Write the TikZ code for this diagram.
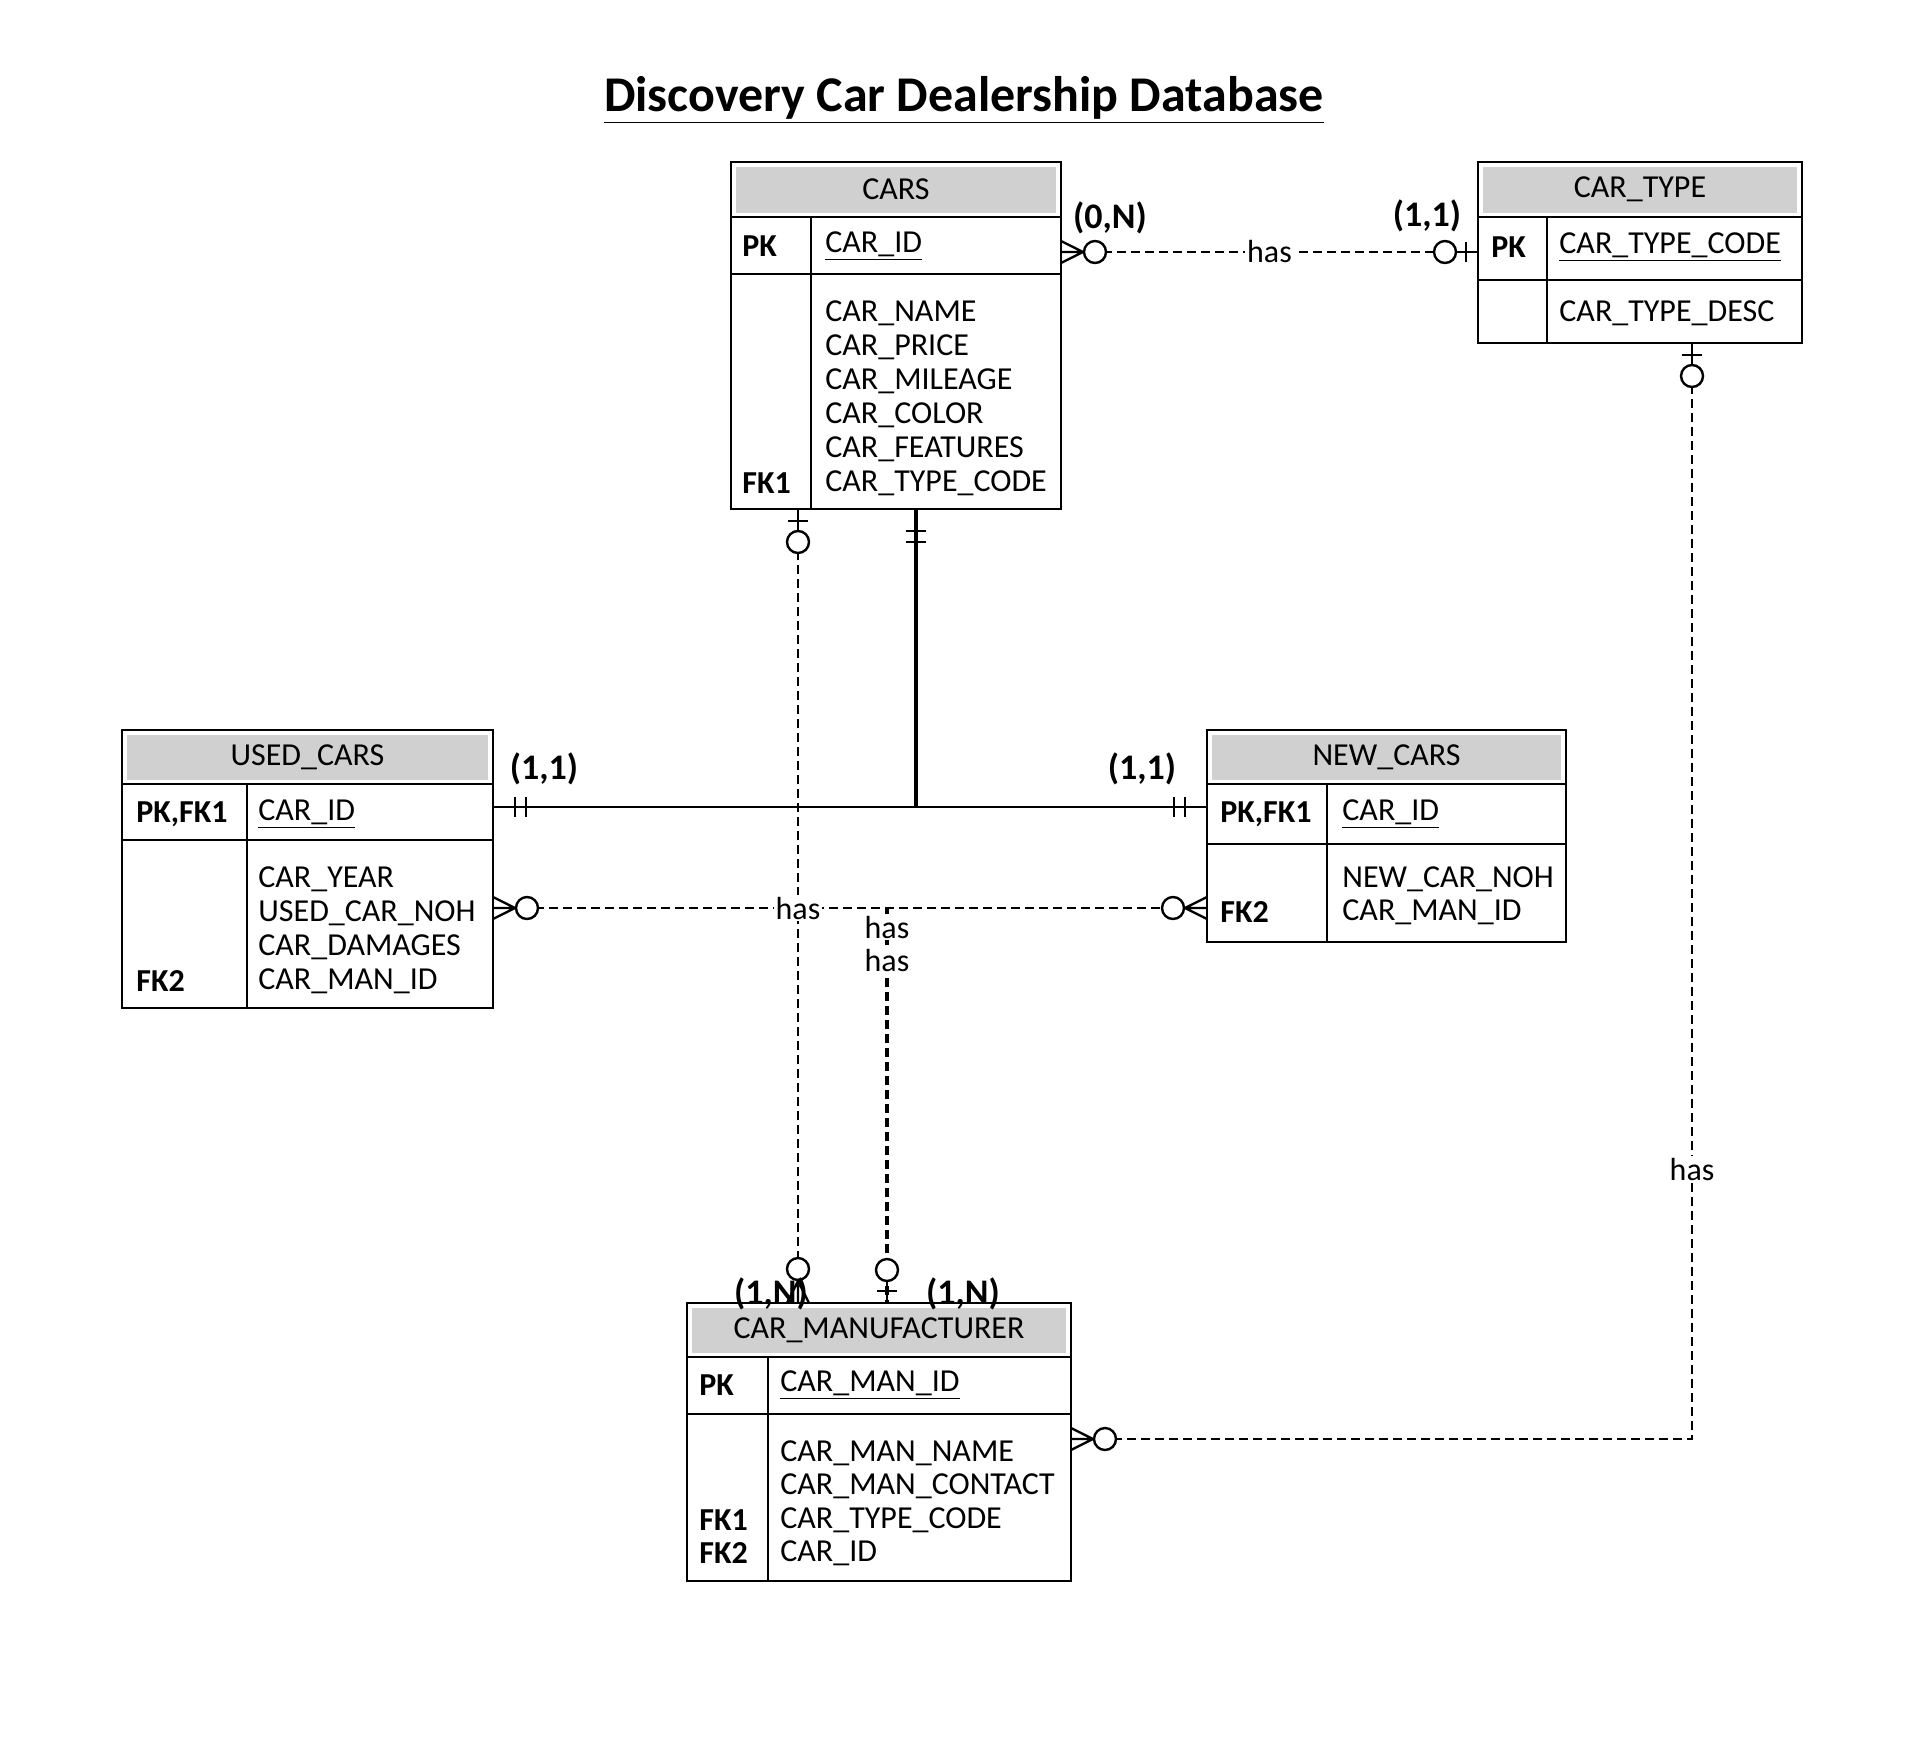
\documentclass[tikz,border=0pt]{standalone}
\usepackage{fontspec}
\setmainfont{Carlito}
\usepackage{tikz}
\usetikzlibrary{calc,positioning}
\definecolor{headgray}{RGB}{208,208,208}
\tikzset{
	tbl frame/.style={draw,line width=1.4pt,inner sep=0pt,outer sep=0pt},
	tbl rule/.style={line width=1pt},
	tbl text/.style={font=\fontsize{16}{19}\selectfont,inner sep=0pt,anchor=west},
	key text/.style={tbl text,font=\bfseries\fontsize{16}{19}\selectfont},
	head text/.style={font=\fontsize{16}{19}\selectfont,inner sep=0pt},
	card/.style={font=\bfseries\fontsize{18}{21}\selectfont,inner sep=0pt},
	has/.style={font=\fontsize{16}{19}\selectfont,fill=white,inner sep=1pt},
	rel/.style={line width=1.2pt,dash pattern=on 4.5pt off 2.5pt},
	link/.style={line width=1.2pt},
	end mark/.style={line width=1.2pt,solid},
	zero many/.pic={
		\draw[end mark] (0,-11) -- (22,0) -- (0,11) (0,0) -- (22,0);
		\draw[end mark,fill=white] (34,0) circle[radius=5.5pt];},
	zero one/.pic={
		\draw[end mark] (0,0) -- (22,0) (12,-10) -- (12,10);
		\draw[end mark,fill=white] (33,0) circle[radius=5.5pt];},
	one one/.pic={
		\draw[end mark] (22,-10) -- (22,10) (33,-10) -- (33,10);}
}
% #1 name, #2 title, #3 left, #4 top, #5 right, #6 head bottom, #7 key bottom, #8 bottom, #9 key column
\newcommand{\entity}[9]{
	\fill[headgray] (#3+5,#4+5) rectangle (#5-5,#6-4);
	\node[tbl frame,anchor=north west,minimum width={(#5-#3)*0.5pt},minimum height={(#8-#4)*0.5pt}] (#1) at (#3,#4) {};
	\draw[tbl rule] (#3,#6) -- (#5,#6) (#3,#7) -- (#5,#7) (#9,#6) -- (#9,#8);
	\node[head text] (#1 head) at ({(#3+#5)/2},{(#4+#6)/2}) {#2};
}

\begin{document}
\begin{tikzpicture}[x=0.5pt,y=-0.5pt]
\useasboundingbox (0,0) rectangle (1920,1750);
\node[font=\bfseries\fontsize{25}{30}\selectfont] (title) at (964,100) {\underline{Discovery Car Dealership Database}};

% entities
\entity{cars}{CARS}{731}{162}{1061}{217}{274}{509}{811}
\node[key text] (cars pk) at (742,246) {PK};
\node[tbl text] (cars id) at (825,246) {\underline{CAR\_ID}};
\foreach \f [count=\i] in {CAR\_NAME,CAR\_PRICE,CAR\_MILEAGE,CAR\_COLOR,CAR\_FEATURES,CAR\_TYPE\_CODE}
	\node[tbl text] (cars \i) at (825,{313+(\i-1)*34}) {\f};
\node[key text] (cars fk1) at (742,483) {FK1};

\entity{ctype}{CAR\_TYPE}{1478}{162}{1802}{217}{280}{343}{1547}
\node[key text] (ctype pk) at (1491,247) {PK};
\node[tbl text] (ctype code) at (1559,247) {\underline{CAR\_TYPE\_CODE}};
\node[tbl text] (ctype desc) at (1559,313) {CAR\_TYPE\_DESC};

\entity{used}{USED\_CARS}{122}{730}{493}{784}{840}{1008}{247}
\node[key text] (used pk) at (136,814) {PK,FK1};
\node[tbl text] (used id) at (258,814) {\underline{CAR\_ID}};
\foreach \f [count=\i] in {CAR\_YEAR,USED\_CAR\_NOH,CAR\_DAMAGES,CAR\_MAN\_ID}
	\node[tbl text] (used \i) at (258,{879+(\i-1)*34}) {\f};
\node[key text] (used fk2) at (136,981) {FK2};

\entity{new}{NEW\_CARS}{1207}{730}{1566}{784}{844}{942}{1327}
\node[key text] (new pk) at (1220,814) {PK,FK1};
\node[tbl text] (new id) at (1342,814) {\underline{CAR\_ID}};
\node[tbl text] (new 1) at (1342,879) {NEW\_CAR\_NOH};
\node[tbl text] (new 2) at (1342,912) {CAR\_MAN\_ID};
\node[key text] (new fk2) at (1220,912) {FK2};

\entity{man}{CAR\_MANUFACTURER}{687}{1303}{1071}{1357}{1414}{1581}{768}
\node[key text] (man pk) at (699,1385) {PK};
\node[tbl text] (man id) at (780,1385) {\underline{CAR\_MAN\_ID}};
\foreach \f [count=\i] in {CAR\_MAN\_NAME,CAR\_MAN\_CONTACT,CAR\_TYPE\_CODE,CAR\_ID}
	\node[tbl text] (man \i) at (780,{1453+(\i-1)*33.5}) {\f};
\node[key text] (man fk1) at (699,1520) {FK1};
\node[key text] (man fk2) at (699,1553) {FK2};

% relationships
\coordinate (ct) at ([yshift=-45pt]cars.north east);
\draw[rel] (ct) -- (ct -| ctype.west);
\path (ct) pic {zero many} (ct -| ctype.west) pic[rotate=180] {zero one};
\node[has] (has type) at ($(ct)!0.5!(ct -| ctype.west)$) {has};

\coordinate (isa) at ([xshift=92.5pt]cars.south west);
\coordinate (us) at ([yshift=-38.5pt]used.north east);
\draw[link] (us) -- (us -| new.west);
\draw[line width=2.4pt] (isa) -- (isa |- us);
\path (isa) pic[rotate=-90] {one one} (us) pic {one one} (us -| new.west) pic[rotate=180] {one one};

\coordinate (un) at ([yshift=-89pt]used.north east);
\draw[rel] (un) -- (un -| new.west);
\path (un) pic {zero many} (un -| new.west) pic[rotate=180] {zero many};

\coordinate (cm) at ([xshift=33.5pt]cars.south west);
\draw[rel] (cm) -- (cm |- man.north);
\path (cm) pic[rotate=-90] {zero one} (cm |- man.north) pic[rotate=90] {zero many};
\node[has] (has cm) at (cm |- un) {has};

\coordinate (nm) at ([xshift=197pt]un);
\draw[rel,line width=2pt] (nm) -- (nm |- man.north);
\path (nm |- man.north) pic[rotate=90] {zero one};
\node[has] (has nm1) at ([yshift=-9.5pt]nm) {has};
\node[has,below=3pt of has nm1] (has nm2) {has};

\coordinate (tm) at ([xshift=107pt]ctype.south west);
\coordinate (mt) at ([yshift=-68pt]man.north east);
\draw[rel] (tm) |- (mt);
\path (tm) pic[rotate=-90] {zero one} (mt) pic {zero many};
\node[has] (has tm) at ($(tm)!0.754!(tm |- mt)$) {has};

% cardinalities
\node[card] (card cars) at (1110,218) {(0,N)};
\node[card] (card type) at (1427,216) {(1,1)};
\node[card] (card used) at (544,769) {(1,1)};
\node[card] (card new) at (1142,769) {(1,1)};
\node[card] (card man1) at (771,1294) {(1,N)};
\node[card] (card man2) at (963,1294) {(1,N)};
\end{tikzpicture}
\end{document}
